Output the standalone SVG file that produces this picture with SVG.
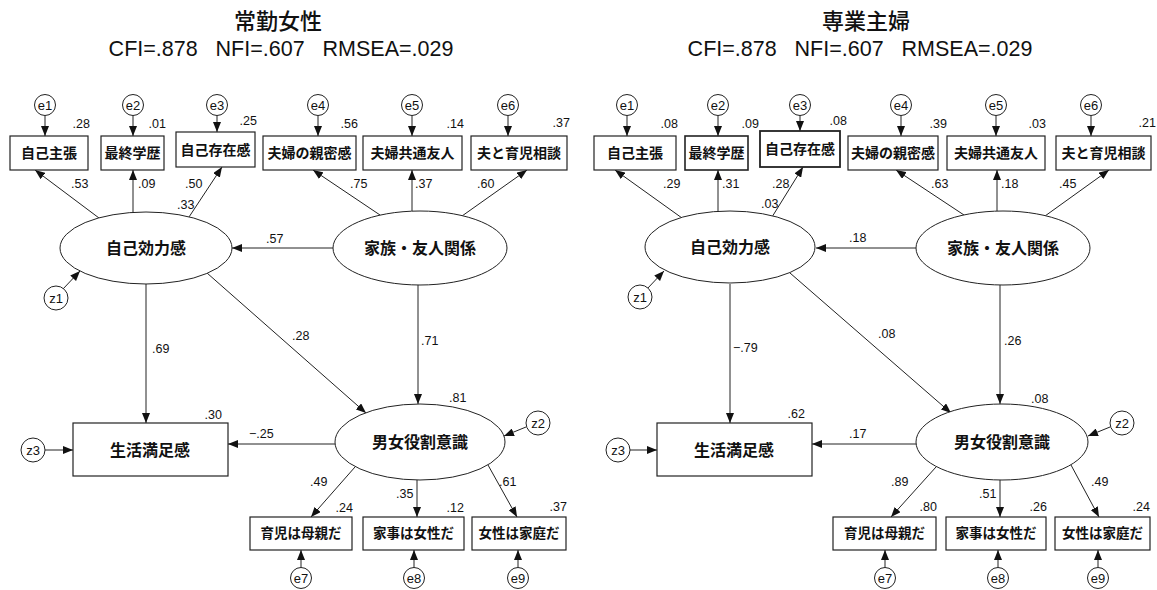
<svg xmlns="http://www.w3.org/2000/svg" width="1157" height="590" viewBox="0 0 1157 590">
<style>
.bg{fill:#fff}
.box{fill:#fff;stroke:#222;stroke-width:1.2}
.ell{fill:#fff;stroke:#222;stroke-width:1}
.err{fill:#fff;stroke:#222;stroke-width:1}
.arr{stroke:#222;stroke-width:1;fill:none;marker-end:url(#ah)}
.jp{font-family:"Noto Sans CJK JP","Noto Sans CJK SC",sans-serif;font-weight:700;fill:#111;text-anchor:middle}
.t{font-size:14px}
.tb{font-size:13.5px}
.tl{font-size:16px}
.ti{font-size:22px;font-weight:500}
.num{font-family:"Liberation Sans",Arial,sans-serif;font-size:12.5px;fill:#111}
.e{font-family:"Liberation Sans",Arial,sans-serif;font-size:13px;fill:#111;text-anchor:middle}
.fit{font-family:"Liberation Sans",Arial,sans-serif;font-size:21.5px;fill:#111;text-anchor:middle}
.end{text-anchor:end}
</style>
<defs>
<marker id="ah" viewBox="0 0 10 8" refX="10" refY="4" markerWidth="10" markerHeight="8" orient="auto" markerUnits="userSpaceOnUse"><path d="M0,0 L10,4 L0,8 z" fill="#111"/></marker>
</defs>
<rect class="bg" x="0" y="0" width="1157" height="590"/>

<!-- LEFT PANEL -->
<g id="panel-left">
<g id="title-left">
<text class="jp ti" x="278" y="29">常勤女性</text>
<text class="fit" x="281" y="56" xml:space="preserve">CFI=.878   NFI=.607   RMSEA=.029</text>
</g>
<g id="L-connectors">
<line class="arr" x1="45" y1="115.5" x2="45" y2="136"/>
<line class="arr" x1="133" y1="115.5" x2="133" y2="136"/>
<line class="arr" x1="217" y1="115.5" x2="217" y2="132"/>
<line class="arr" x1="318" y1="115.5" x2="318" y2="136"/>
<line class="arr" x1="412" y1="115.5" x2="412" y2="136"/>
<line class="arr" x1="508" y1="115.5" x2="508" y2="136"/>
<line class="arr" x1="99" y1="218" x2="35" y2="170"/>
<line class="arr" x1="133" y1="212" x2="133" y2="170"/>
<line class="arr" x1="189" y1="217" x2="222" y2="167"/>
<line class="arr" x1="380" y1="215" x2="313" y2="170"/>
<line class="arr" x1="412" y1="211" x2="412" y2="170"/>
<line class="arr" x1="462" y1="216" x2="527" y2="170"/>
<line class="arr" x1="333" y1="248" x2="232" y2="248"/>
<line class="arr" x1="63" y1="289" x2="80" y2="271"/>
<line class="arr" x1="146" y1="284" x2="146" y2="423"/>
<line class="arr" x1="207" y1="273" x2="366" y2="413"/>
<line class="arr" x1="418" y1="285" x2="418" y2="404"/>
<line class="arr" x1="335" y1="444" x2="228" y2="444"/>
<line class="arr" x1="526" y1="427" x2="504" y2="436"/>
<line class="arr" x1="45" y1="450" x2="73" y2="450"/>
<line class="arr" x1="355" y1="467" x2="311" y2="517"/>
<line class="arr" x1="417" y1="480" x2="417" y2="517"/>
<line class="arr" x1="488" y1="465" x2="517" y2="517"/>
<line class="arr" x1="301" y1="567.5" x2="301" y2="550"/>
<line class="arr" x1="414" y1="567.5" x2="414" y2="550"/>
<line class="arr" x1="518" y1="567.5" x2="518" y2="550"/>
<text class="num" x="71" y="188">.53</text>
<text class="num" x="138" y="188">.09</text>
<text class="num" x="185" y="188">.50</text>
<text class="num" x="177" y="209">.33</text>
<text class="num" x="350" y="188">.75</text>
<text class="num" x="415" y="188">.37</text>
<text class="num" x="477" y="188">.60</text>
<text class="num" x="266" y="243">.57</text>
<text class="num" x="152" y="353">.69</text>
<text class="num" x="292" y="340">.28</text>
<text class="num" x="421" y="345">.71</text>
<text class="num" x="249" y="438">−.25</text>
<text class="num" x="449" y="402">.81</text>
<text class="num" x="310" y="486">.49</text>
<text class="num" x="396" y="498">.35</text>
<text class="num" x="499" y="486">.61</text>
</g>
<g id="L-e1"><circle class="err" cx="45" cy="105" r="10.5"/><text class="e" x="45" y="110">e1</text></g>
<g id="L-e2"><circle class="err" cx="133" cy="105" r="10.5"/><text class="e" x="133" y="110">e2</text></g>
<g id="L-e3"><circle class="err" cx="217" cy="105" r="10.5"/><text class="e" x="217" y="110">e3</text></g>
<g id="L-e4"><circle class="err" cx="318" cy="105" r="10.5"/><text class="e" x="318" y="110">e4</text></g>
<g id="L-e5"><circle class="err" cx="412" cy="105" r="10.5"/><text class="e" x="412" y="110">e5</text></g>
<g id="L-e6"><circle class="err" cx="508" cy="105" r="10.5"/><text class="e" x="508" y="110">e6</text></g>
<g id="L-jiko-shucho"><rect class="box" x="10" y="136" width="78" height="34"/><text class="jp t" x="49" y="158">自己主張</text><text class="num end" x="90" y="128">.28</text></g>
<g id="L-saishu-gakureki"><rect class="box" x="101" y="136" width="63" height="34"/><text class="jp t" x="132.5" y="158">最終学歴</text><text class="num end" x="166" y="128">.01</text></g>
<g id="L-jiko-sonzai"><rect class="box" x="176" y="132" width="79" height="35"/><text class="jp t" x="215.5" y="154.5">自己存在感</text><text class="num end" x="257" y="125">.25</text></g>
<g id="L-fufu-shinmitsu"><rect class="box" x="263" y="136" width="93" height="34"/><text class="jp t" x="309.5" y="158">夫婦の親密感</text><text class="num end" x="358" y="128">.56</text></g>
<g id="L-fufu-yujin"><rect class="box" x="363" y="136" width="99" height="34"/><text class="jp t" x="412.5" y="158">夫婦共通友人</text><text class="num end" x="464" y="128">.14</text></g>
<g id="L-ikuji-sodan"><rect class="box" x="471" y="136" width="96" height="34"/><text class="jp t" x="519" y="158">夫と育児相談</text><text class="num end" x="570" y="127">.37</text></g>
<g id="L-jiko-koryoku"><ellipse class="ell" cx="146" cy="248" rx="86" ry="36"/><text class="jp tl" x="146" y="254">自己効力感</text></g>
<g id="L-kazoku"><ellipse class="ell" cx="420" cy="248" rx="87" ry="37"/><text class="jp tl" x="420" y="254">家族・友人関係</text></g>
<g id="L-z1"><circle class="err" cx="56" cy="298" r="12"/><text class="e" x="56" y="303">z1</text></g>
<g id="L-danjo"><ellipse class="ell" cx="420" cy="442" rx="85" ry="38"/><text class="jp tl" x="420" y="448">男女役割意識</text></g>
<g id="L-z2"><circle class="err" cx="538" cy="423" r="12"/><text class="e" x="538" y="428">z2</text></g>
<g id="L-seikatsu"><rect class="box" x="73" y="423" width="155" height="53"/><text class="jp tl" x="150" y="456">生活満足感</text><text class="num end" x="222" y="419">.30</text></g>
<g id="L-z3"><circle class="err" cx="33" cy="450" r="12"/><text class="e" x="33" y="455">z3</text></g>
<g id="L-ikuji-haha"><rect class="box" x="250" y="517" width="102" height="33"/><text class="jp tb" x="301" y="538">育児は母親だ</text><text class="num end" x="353" y="512">.24</text></g>
<g id="L-kaji-josei"><rect class="box" x="363" y="517" width="101" height="33"/><text class="jp tb" x="413.5" y="538">家事は女性だ</text><text class="num end" x="464" y="512">.12</text></g>
<g id="L-josei-katei"><rect class="box" x="472" y="517" width="94" height="33"/><text class="jp tb" x="519" y="538">女性は家庭だ</text><text class="num end" x="567" y="511">.37</text></g>
<g id="L-e7"><circle class="err" cx="301" cy="578" r="10.5"/><text class="e" x="301" y="583">e7</text></g>
<g id="L-e8"><circle class="err" cx="414" cy="578" r="10.5"/><text class="e" x="414" y="583">e8</text></g>
<g id="L-e9"><circle class="err" cx="518" cy="578" r="10.5"/><text class="e" x="518" y="583">e9</text></g>
</g>

<!-- RIGHT PANEL -->
<g id="panel-right" transform="translate(584,0)">
<g id="title-right">
<text class="jp ti" x="282" y="29">専業主婦</text>
<text class="fit" x="276" y="56" xml:space="preserve">CFI=.878   NFI=.607   RMSEA=.029</text>
</g>
<g id="R-connectors">
<line class="arr" x1="43" y1="115.5" x2="43" y2="136"/>
<line class="arr" x1="134" y1="115.5" x2="134" y2="136"/>
<line class="arr" x1="216" y1="115.5" x2="216" y2="131"/>
<line class="arr" x1="317" y1="115.5" x2="317" y2="136"/>
<line class="arr" x1="412" y1="115.5" x2="412" y2="136"/>
<line class="arr" x1="507" y1="115.5" x2="507" y2="136"/>
<line class="arr" x1="98" y1="218" x2="31" y2="170"/>
<line class="arr" x1="134" y1="212" x2="134" y2="170"/>
<line class="arr" x1="188" y1="217" x2="219" y2="167"/>
<line class="arr" x1="380" y1="215" x2="312" y2="170"/>
<line class="arr" x1="413" y1="211" x2="413" y2="170"/>
<line class="arr" x1="461" y1="216" x2="525" y2="170"/>
<line class="arr" x1="333" y1="248" x2="232" y2="248"/>
<line class="arr" x1="63" y1="289" x2="80" y2="271"/>
<line class="arr" x1="146" y1="284" x2="146" y2="423"/>
<line class="arr" x1="206" y1="273" x2="367" y2="413"/>
<line class="arr" x1="416" y1="285" x2="416" y2="404"/>
<line class="arr" x1="335" y1="444" x2="228" y2="444"/>
<line class="arr" x1="526" y1="427" x2="504" y2="436"/>
<line class="arr" x1="46" y1="450" x2="73" y2="450"/>
<line class="arr" x1="352" y1="467" x2="307" y2="517"/>
<line class="arr" x1="416" y1="480" x2="416" y2="517"/>
<line class="arr" x1="487" y1="465" x2="515" y2="517"/>
<line class="arr" x1="301" y1="567.5" x2="301" y2="550"/>
<line class="arr" x1="414" y1="567.5" x2="414" y2="550"/>
<line class="arr" x1="514" y1="567.5" x2="514" y2="550"/>
<text class="num" x="79" y="188">.29</text>
<text class="num" x="138" y="188">.31</text>
<text class="num" x="188" y="188">.28</text>
<text class="num" x="177" y="208">.03</text>
<text class="num" x="347" y="188">.63</text>
<text class="num" x="417" y="188">.18</text>
<text class="num" x="475" y="188">.45</text>
<text class="num" x="265" y="242">.18</text>
<text class="num" x="149" y="352">−.79</text>
<text class="num" x="294" y="338">.08</text>
<text class="num" x="420" y="345">.26</text>
<text class="num" x="265" y="438">.17</text>
<text class="num" x="447" y="403">.08</text>
<text class="num" x="307" y="486">.89</text>
<text class="num" x="395" y="498">.51</text>
<text class="num" x="507" y="486">.49</text>
</g>
<g id="R-e1"><circle class="err" cx="43" cy="105" r="10.5"/><text class="e" x="43" y="110">e1</text></g>
<g id="R-e2"><circle class="err" cx="134" cy="105" r="10.5"/><text class="e" x="134" y="110">e2</text></g>
<g id="R-e3"><circle class="err" cx="216" cy="105" r="10.5"/><text class="e" x="216" y="110">e3</text></g>
<g id="R-e4"><circle class="err" cx="317" cy="105" r="10.5"/><text class="e" x="317" y="110">e4</text></g>
<g id="R-e5"><circle class="err" cx="412" cy="105" r="10.5"/><text class="e" x="412" y="110">e5</text></g>
<g id="R-e6"><circle class="err" cx="507" cy="105" r="10.5"/><text class="e" x="507" y="110">e6</text></g>
<g id="R-jiko-shucho"><rect class="box" x="10" y="136" width="82" height="34"/><text class="jp t" x="51" y="158">自己主張</text><text class="num end" x="94" y="128">.08</text></g>
<g id="R-saishu-gakureki"><rect class="box" x="101" y="136" width="63" height="34" style="stroke-width:1.6"/><text class="jp t" x="132.5" y="158">最終学歴</text><text class="num end" x="175" y="128">.09</text></g>
<g id="R-jiko-sonzai"><rect class="box" x="176" y="131" width="80" height="36" style="stroke-width:1.8"/><text class="jp t" x="216" y="154">自己存在感</text><text class="num end" x="263" y="125">.08</text></g>
<g id="R-fufu-shinmitsu"><rect class="box" x="264" y="136" width="90" height="34"/><text class="jp t" x="309" y="158">夫婦の親密感</text><text class="num end" x="363" y="128">.39</text></g>
<g id="R-fufu-yujin"><rect class="box" x="363" y="136" width="98" height="34"/><text class="jp t" x="412" y="158">夫婦共通友人</text><text class="num end" x="462" y="128">.03</text></g>
<g id="R-ikuji-sodan"><rect class="box" x="472" y="136" width="95" height="34"/><text class="jp t" x="519.5" y="158">夫と育児相談</text><text class="num end" x="572" y="127">.21</text></g>
<g id="R-jiko-koryoku"><ellipse class="ell" cx="146" cy="247" rx="85" ry="36"/><text class="jp tl" x="146" y="253">自己効力感</text></g>
<g id="R-kazoku"><ellipse class="ell" cx="419" cy="248" rx="87" ry="37"/><text class="jp tl" x="419" y="254">家族・友人関係</text></g>
<g id="R-z1"><circle class="err" cx="56" cy="297" r="12"/><text class="e" x="56" y="302">z1</text></g>
<g id="R-danjo"><ellipse class="ell" cx="418" cy="442" rx="86" ry="38"/><text class="jp tl" x="418" y="448">男女役割意識</text></g>
<g id="R-z2"><circle class="err" cx="538" cy="423" r="12"/><text class="e" x="538" y="428">z2</text></g>
<g id="R-seikatsu"><rect class="box" x="73" y="423" width="155" height="53"/><text class="jp tl" x="150" y="456">生活満足感</text><text class="num end" x="221" y="418">.62</text></g>
<g id="R-z3"><circle class="err" cx="34" cy="450" r="12"/><text class="e" x="34" y="455">z3</text></g>
<g id="R-ikuji-haha"><rect class="box" x="249" y="517" width="103" height="33"/><text class="jp tb" x="300.5" y="538">育児は母親だ</text><text class="num end" x="353" y="511">.80</text></g>
<g id="R-kaji-josei"><rect class="box" x="362" y="517" width="100" height="33"/><text class="jp tb" x="412" y="538">家事は女性だ</text><text class="num end" x="463" y="511">.26</text></g>
<g id="R-josei-katei"><rect class="box" x="471" y="517" width="95" height="33"/><text class="jp tb" x="518.5" y="538">女性は家庭だ</text><text class="num end" x="566" y="511">.24</text></g>
<g id="R-e7"><circle class="err" cx="301" cy="578" r="10.5"/><text class="e" x="301" y="583">e7</text></g>
<g id="R-e8"><circle class="err" cx="414" cy="578" r="10.5"/><text class="e" x="414" y="583">e8</text></g>
<g id="R-e9"><circle class="err" cx="514" cy="578" r="10.5"/><text class="e" x="514" y="583">e9</text></g>
</g>
</svg>
